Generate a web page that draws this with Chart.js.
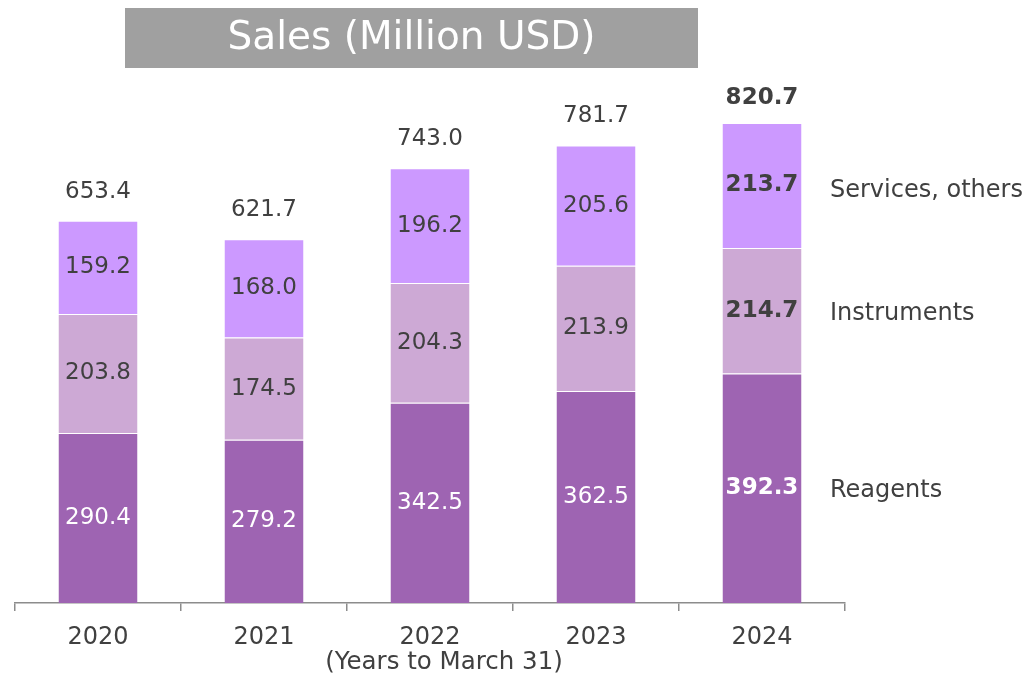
<!DOCTYPE html>
<html><head><meta charset="utf-8">
<script src="https://cdn.jsdelivr.net/npm/chart.js@4"></script>
<style>html,body{margin:0;padding:0;background:#fff}</style>
</head><body>
<canvas id="c" width="1028" height="675" style="display:block;width:1028px;height:675px"></canvas>
<script>
const years = ['2020', '2021', '2022', '2023', '2024'];
const reagents = [290.4, 279.2, 342.5, 362.5, 392.3];
const instruments = [203.8, 174.5, 204.3, 213.9, 214.7];
const services = [159.2, 168.0, 196.2, 205.6, 213.7];
const totals = [653.4, 621.7, 743.0, 781.7, 820.7];
const seriesNames = ['Reagents', 'Instruments', 'Services, others'];
const chartTitle = 'Sales (Million USD)';
const axisTitle = '(Years to March 31)';

const FONT = 'DejaVu Sans';
const TXT = '#404040';

const labelPlugin = {
  id: 'labels',
  beforeDraw(chart) {
    const ctx = chart.ctx;
    ctx.save();
    ctx.fillStyle = '#A0A0A0';
    ctx.fillRect(125, 8, 573, 60);
    ctx.fillStyle = '#ffffff';
    ctx.font = '39px "' + FONT + '"';
    ctx.textAlign = 'center';
    ctx.textBaseline = 'middle';
    ctx.fillText(chartTitle, 411.5, 39);
    ctx.restore();
  },
  afterDatasetsDraw(chart) {
    const ctx = chart.ctx;
    ctx.save();
    ctx.textAlign = 'center';
    ctx.textBaseline = 'middle';
    const last = years.length - 1;
    chart.data.datasets.forEach((ds, di) => {
      const meta = chart.getDatasetMeta(di);
      meta.data.forEach((el, i) => {
        const cy = (el.y + el.base) / 2;
        ctx.font = (i === last ? 'bold ' : '') + '23px "' + FONT + '"';
        ctx.fillStyle = di === 0 ? '#ffffff' : TXT;
        ctx.fillText(ds.data[i].toFixed(1), el.x, cy);
        if (i === last) {
          ctx.save();
          ctx.textAlign = 'left';
          ctx.font = '24px "' + FONT + '"';
          ctx.fillStyle = TXT;
          ctx.fillText(seriesNames[di], chart.chartArea.right - 15, cy + (di === 2 ? 5 : 3));
          ctx.restore();
        }
      });
    });
    const topMeta = chart.getDatasetMeta(chart.data.datasets.length - 1);
    topMeta.data.forEach((el, i) => {
      ctx.font = (i === last ? 'bold ' : '') + '23px "' + FONT + '"';
      ctx.fillStyle = TXT;
      ctx.fillText(totals[i].toFixed(1), el.x, el.y - (i === last ? 25 : 29));
    });
    ctx.font = '24.5px "' + FONT + '"';
    ctx.fillStyle = TXT;
    ctx.fillText(axisTitle, 444, 663);
    ctx.restore();
  }
};

new Chart(document.getElementById('c'), {
  type: 'bar',
  data: {
    labels: years,
    datasets: [
      { label: seriesNames[0], data: reagents, backgroundColor: '#9E64B2' },
      { label: seriesNames[1], data: instruments, backgroundColor: '#CDA9D5' },
      { label: seriesNames[2], data: services, backgroundColor: '#CC99FF' }
    ]
  },
  options: {
    responsive: false,
    animation: false,
    devicePixelRatio: 1,
    layout: { padding: { left: 15, right: 183, top: 76.5, bottom: 0 } },
    datasets: {
      bar: {
        categoryPercentage: 1,
        barPercentage: 0.476,
        borderColor: 'rgba(255,255,255,0.8)',
        borderWidth: { top: 1, left: 0, right: 0, bottom: 0 },
        borderSkipped: 'start'
      }
    },
    plugins: { legend: { display: false }, title: { display: false }, tooltip: { enabled: false } },
    scales: {
      x: {
        stacked: true,
        offset: true,
        grid: { display: true, drawOnChartArea: false, drawTicks: true, tickLength: 8, color: '#8C8C8C', lineWidth: 1.5, offset: true },
        border: { display: true, color: '#8C8C8C', width: 1.5 },
        ticks: { color: TXT, font: { family: FONT, size: 24 }, padding: 12, maxRotation: 0 },
        afterFit(s) { s.height = 72; }
      },
      y: { stacked: true, display: false, min: 0, max: 900 }
    }
  },
  plugins: [labelPlugin]
});
</script>
</body></html>
